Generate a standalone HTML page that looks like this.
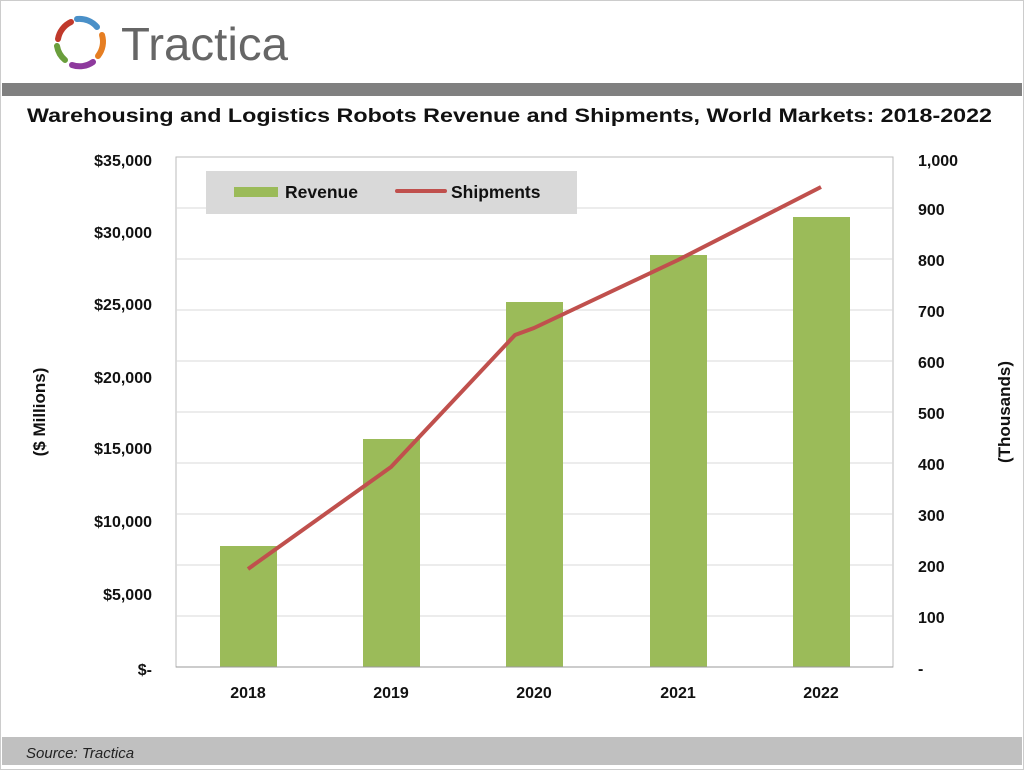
<!DOCTYPE html>
<html><head><style>
body{margin:0;width:1024px;height:770px;background:#fff;overflow:hidden;font-family:"Liberation Sans",Arial,sans-serif;}
</style></head><body>
<svg width="1024" height="770" viewBox="0 0 1024 770" xmlns="http://www.w3.org/2000/svg">
<rect x="0.5" y="0.5" width="1023" height="769" fill="#fff" stroke="#ccc"/>
<g transform="translate(80,43)" fill="none" stroke-width="6" stroke-linecap="round">
<path d="M-22,-4 A23,23 0 0 1 -9,-21" stroke="#c0392b"/>
<path d="M-3,-24 A23,23 0 0 1 17,-16" stroke="#4a90c8"/>
<path d="M22,-8 A23,23 0 0 1 18,13" stroke="#e67e22"/>
<path d="M13,19 A23,23 0 0 1 -8,22" stroke="#8e3a9d"/>
<path d="M-15,17 A23,23 0 0 1 -23,3" stroke="#6a9e3c"/>
</g>
<text x="121" y="60" font-size="46" fill="#666" textLength="167" lengthAdjust="spacingAndGlyphs">Tractica</text>
<rect x="2" y="83" width="1020" height="13" fill="#808080"/>
<text x="27" y="122" font-size="19.5" font-weight="bold" fill="#111" textLength="965" lengthAdjust="spacingAndGlyphs">Warehousing and Logistics Robots Revenue and Shipments, World Markets: 2018-2022</text>
<rect x="176" y="157" width="717" height="510" fill="#fff" stroke="#bbb"/>
<g stroke="#d9d9d9" stroke-width="1">
<line x1="176" x2="893" y1="208" y2="208"/><line x1="176" x2="893" y1="259" y2="259"/><line x1="176" x2="893" y1="310" y2="310"/><line x1="176" x2="893" y1="361" y2="361"/><line x1="176" x2="893" y1="412" y2="412"/><line x1="176" x2="893" y1="463" y2="463"/><line x1="176" x2="893" y1="514" y2="514"/><line x1="176" x2="893" y1="565" y2="565"/><line x1="176" x2="893" y1="616" y2="616"/>
</g>
<g fill="#9bbb59">
<rect x="220" y="546" width="57" height="121"/>
<rect x="363" y="439" width="57" height="228"/>
<rect x="506" y="302" width="57" height="365"/>
<rect x="650" y="255" width="57" height="412"/>
<rect x="793" y="217" width="57" height="450"/>
</g>
<line x1="176" x2="893" y1="667" y2="667" stroke="#999"/>
<polyline points="248,569 391,467 515,335 534,328 678,260 821,187" fill="none" stroke="#c0504d" stroke-width="4" stroke-linejoin="round"/>
<rect x="206" y="171" width="371" height="43" fill="#d9d9d9"/>
<rect x="234" y="187" width="44" height="10" fill="#9bbb59"/>
<text x="285" y="198" font-size="17.5" font-weight="bold" fill="#111">Revenue</text>
<line x1="397" x2="445" y1="191" y2="191" stroke="#c0504d" stroke-width="4" stroke-linecap="round"/>
<text x="451" y="198" font-size="17.5" font-weight="bold" fill="#111">Shipments</text>
<g font-size="16" font-weight="bold" fill="#111" text-anchor="end">
<text x="152" y="166">$35,000</text><text x="152" y="238">$30,000</text><text x="152" y="310">$25,000</text><text x="152" y="383">$20,000</text><text x="152" y="454">$15,000</text><text x="152" y="527">$10,000</text><text x="152" y="600">$5,000</text><text x="152" y="675">$-</text>
</g>
<g font-size="16" font-weight="bold" fill="#111" text-anchor="start">
<text x="918" y="166">1,000</text><text x="918" y="215">900</text><text x="918" y="266">800</text><text x="918" y="317">700</text><text x="918" y="368">600</text><text x="918" y="419">500</text><text x="918" y="470">400</text><text x="918" y="521">300</text><text x="918" y="572">200</text><text x="918" y="623">100</text><text x="918" y="674">-</text>
</g>
<g font-size="16" font-weight="bold" fill="#111" text-anchor="middle">
<text x="248" y="698">2018</text><text x="391" y="698">2019</text><text x="534" y="698">2020</text><text x="678" y="698">2021</text><text x="821" y="698">2022</text>
</g>
<text transform="translate(45,412) rotate(-90)" font-size="17" font-weight="bold" fill="#111" text-anchor="middle">($ Millions)</text>
<text transform="translate(1010,412) rotate(-90)" font-size="17" font-weight="bold" fill="#111" text-anchor="middle">(Thousands)</text>
<rect x="2" y="737" width="1020" height="28" fill="#c0c0c0"/>
<text x="26" y="758" font-size="15" font-style="italic" fill="#222">Source: Tractica</text>
</svg>
</body></html>
